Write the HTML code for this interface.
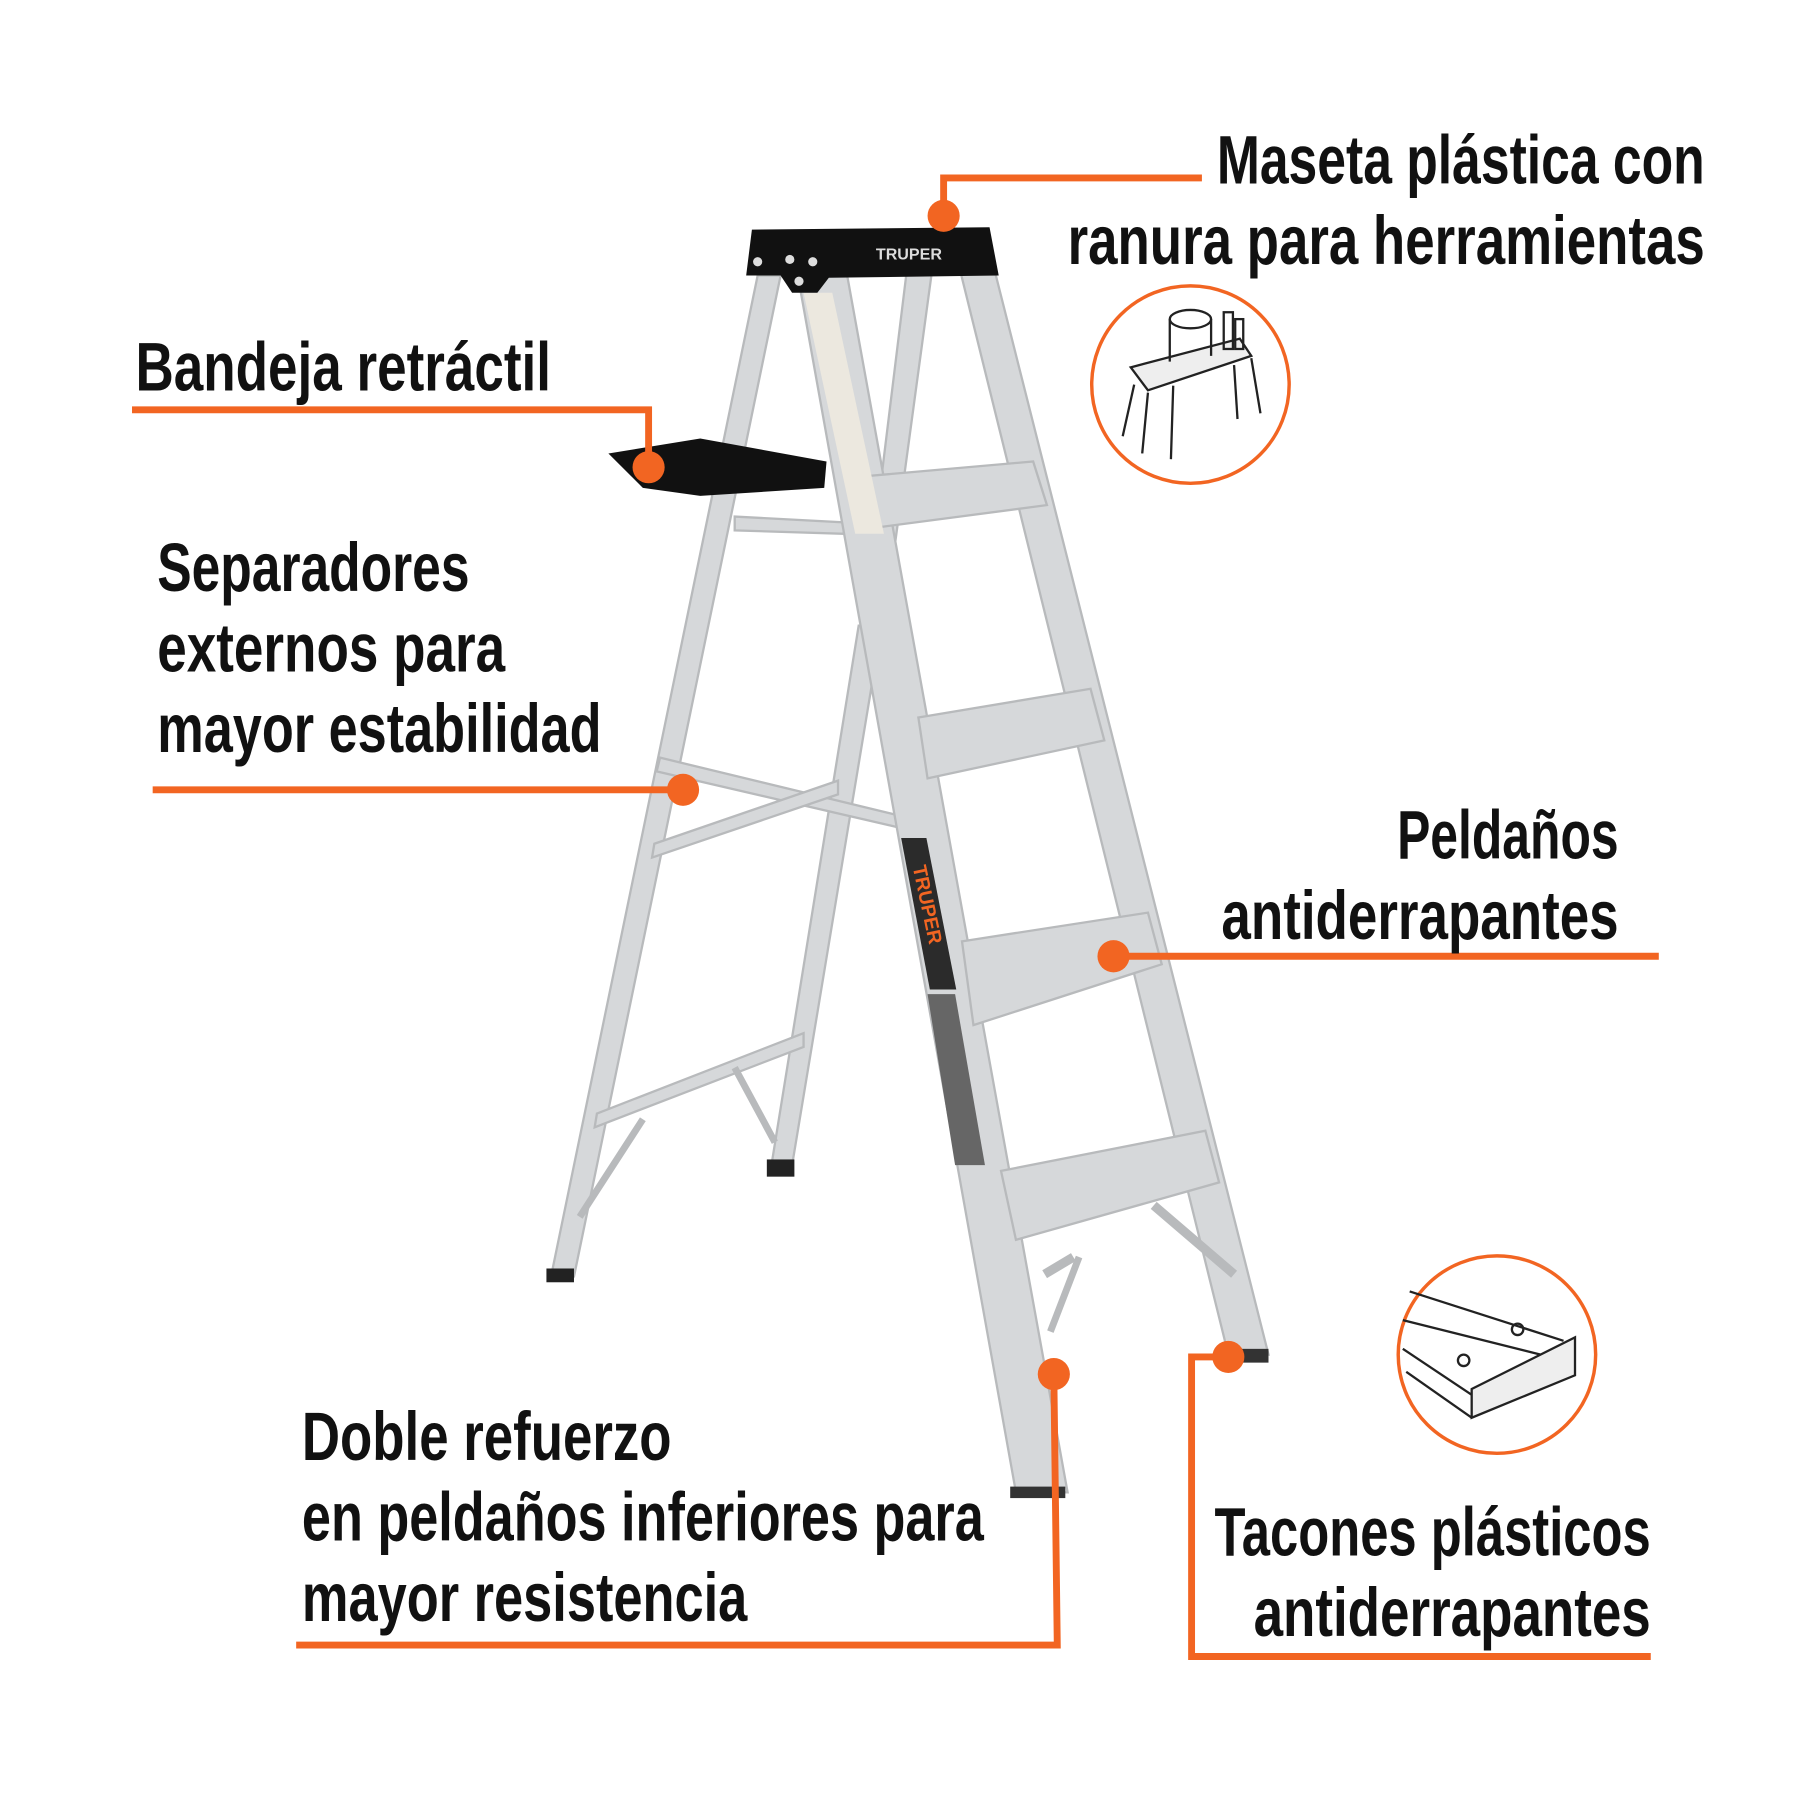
<!DOCTYPE html>
<html><head><meta charset="utf-8"><style>html,body{margin:0;padding:0;background:#fff}svg{display:block}</style></head>
<body>
<svg width="1800" height="1800" viewBox="0 0 1568 1568" xmlns="http://www.w3.org/2000/svg">
<rect width="1568" height="1568" fill="#fff"/>
<g fill="#d6d8da" stroke="#b8babc" stroke-width="2">
<polygon points="660,240 680,240 500,1112 480,1112"/>
<polygon points="748,545 768,545 690,1015 672,1015"/>
<polygon points="790,235 812,235 770,545 752,545"/>
<polygon points="575,660 790,712 788,722 572,672"/>
<polygon points="570,735 730,680 730,692 568,747"/>
<polygon points="520,970 700,900 700,912 518,982"/>
<polygon points="640,450 735,455 735,465 640,462"/>
<line x1="505" y1="1060" x2="560" y2="975" stroke-width="6"/>
<line x1="640" y1="930" x2="675" y2="995" stroke-width="6"/>
<polygon points="835,230 865,230 1105,1180 1070,1180"/>
<polygon points="695,240 738,240 930,1300 885,1300"/>
<polygon points="752,415 900,402 912,440 760,460"/>
<polygon points="800,625 950,600 962,645 808,678"/>
<polygon points="838,820 1000,795 1012,840 848,893"/>
<polygon points="872,1020 1050,985 1062,1030 885,1080"/>
<line x1="910" y1="1110" x2="935" y2="1095" stroke-width="8"/>
<line x1="1005" y1="1050" x2="1075" y2="1110" stroke-width="8"/>
<line x1="915" y1="1160" x2="940" y2="1095" stroke-width="6"/>
</g>
<polygon points="700,255 725,255 770,465 745,465" fill="#ece8df"/>
<polygon points="785,730 807,730 833,862 810,862" fill="#2b2b2b"/>
<text x="0" y="0" transform="translate(795,755) rotate(78)" font-family="Liberation Sans,sans-serif" font-weight="bold" font-size="17" fill="#f26522">TRUPER</text>
<polygon points="808,866 832,866 858,1015 832,1015" fill="#666"/>
<polygon points="655,200 862,198 870,240 722,242 712,255 690,255 680,240 650,240" fill="#111"/>
<text x="763" y="226" font-family="Liberation Sans,sans-serif" font-weight="bold" font-size="14" fill="#ddd">TRUPER</text>
<circle cx="660" cy="228" r="4" fill="#ddd"/><circle cx="688" cy="226" r="4" fill="#ddd"/><circle cx="708" cy="228" r="4" fill="#ddd"/><circle cx="696" cy="245" r="4" fill="#ddd"/>
<polygon points="530,395 610,382 720,402 718,425 610,432 560,425" fill="#111"/>
<rect x="476" y="1105" width="24" height="12" fill="#222"/>
<rect x="668" y="1010" width="24" height="15" fill="#222"/>
<rect x="880" y="1295" width="48" height="10" fill="#333"/>
<rect x="1065" y="1175" width="40" height="12" fill="#333"/>
<g fill="none" stroke="#f26522" stroke-width="6">
<polyline points="1047,155 822,155 822,188"/>
<polyline points="115,357 565,357 565,407"/>
<polyline points="133,688 595,688"/>
<polyline points="1445,833 970,833"/>
<polyline points="258,1433 921,1433 918,1197"/>
<polyline points="1438,1443 1038,1443 1038,1182 1070,1182"/>
</g>
<g fill="#f26522">
<circle cx="822" cy="188" r="14"/><circle cx="565" cy="407" r="14"/><circle cx="595" cy="688" r="14"/>
<circle cx="970" cy="833" r="14"/><circle cx="918" cy="1197" r="14"/><circle cx="1070" cy="1182" r="14"/>
</g>
<circle cx="1037" cy="335" r="86" fill="none" stroke="#f26522" stroke-width="3"/>
<circle cx="1304" cy="1180" r="86" fill="none" stroke="#f26522" stroke-width="3"/>
<g fill="none" stroke="#222" stroke-width="2">
<polygon points="985,320 1080,295 1090,310 1000,340" fill="#eee"/>
<ellipse cx="1037" cy="278" rx="18" ry="8" fill="#fff"/>
<line x1="1019" y1="278" x2="1019" y2="315"/><line x1="1055" y1="278" x2="1055" y2="310"/>
<rect x="1066" y="272" width="8" height="32"/><rect x="1076" y="278" width="7" height="26"/>
<line x1="988" y1="335" x2="978" y2="380"/><line x1="1000" y1="342" x2="995" y2="395"/><line x1="1022" y1="336" x2="1020" y2="400"/><line x1="1090" y1="312" x2="1098" y2="360"/><line x1="1075" y1="318" x2="1078" y2="365"/>
</g>
<g fill="none" stroke="#222" stroke-width="2">
<line x1="1228" y1="1125" x2="1362" y2="1168"/><line x1="1222" y1="1150" x2="1362" y2="1185"/>
<line x1="1222" y1="1175" x2="1282" y2="1215"/><line x1="1225" y1="1195" x2="1282" y2="1235"/>
<polygon points="1282,1210 1372,1165 1372,1198 1282,1235" fill="#eee"/>
<circle cx="1322" cy="1158" r="5"/><circle cx="1275" cy="1185" r="5"/>
</g>
<g font-family="'Liberation Sans',sans-serif" font-weight="bold" font-size="60" fill="#111">
<text x="1485" y="160" text-anchor="end" textLength="425" lengthAdjust="spacingAndGlyphs">Maseta plástica con</text>
<text x="1485" y="230" text-anchor="end" textLength="555" lengthAdjust="spacingAndGlyphs">ranura para herramientas</text>
<text x="118" y="340" textLength="362" lengthAdjust="spacingAndGlyphs">Bandeja retráctil</text>
<text x="137" y="515" textLength="272" lengthAdjust="spacingAndGlyphs">Separadores</text>
<text x="137" y="585" textLength="303" lengthAdjust="spacingAndGlyphs">externos para</text>
<text x="137" y="655" textLength="387" lengthAdjust="spacingAndGlyphs">mayor estabilidad</text>
<text x="1410" y="748" text-anchor="end" textLength="193" lengthAdjust="spacingAndGlyphs">Peldaños</text>
<text x="1410" y="818" text-anchor="end" textLength="346" lengthAdjust="spacingAndGlyphs">antiderrapantes</text>
<text x="263" y="1272" textLength="322" lengthAdjust="spacingAndGlyphs">Doble refuerzo</text>
<text x="263" y="1342" textLength="594" lengthAdjust="spacingAndGlyphs">en peldaños inferiores para</text>
<text x="263" y="1412" textLength="388" lengthAdjust="spacingAndGlyphs">mayor resistencia</text>
<text x="1438" y="1355" text-anchor="end" textLength="380" lengthAdjust="spacingAndGlyphs">Tacones plásticos</text>
<text x="1438" y="1425" text-anchor="end" textLength="346" lengthAdjust="spacingAndGlyphs">antiderrapantes</text>
</g>
</svg>
</body></html>
